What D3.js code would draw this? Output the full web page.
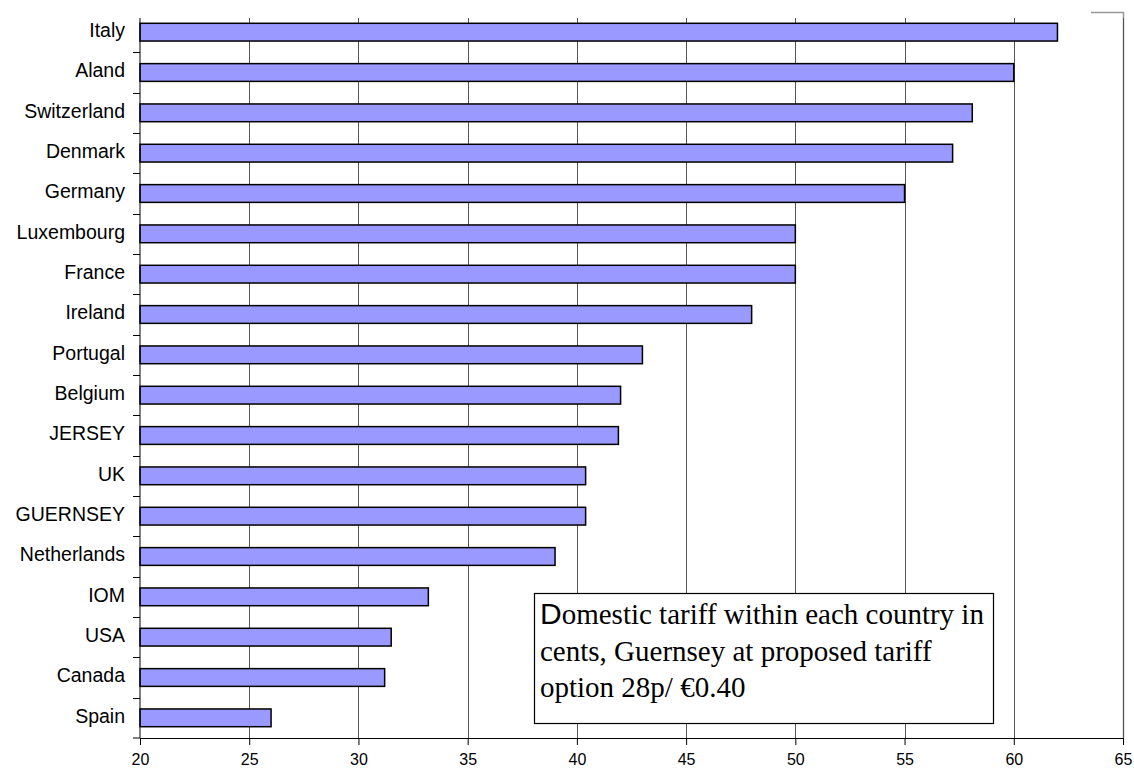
<!DOCTYPE html>
<meta charset="utf-8">
<style>
  body { margin: 0; background: #fff; }
</style>
<div id="barchart"></div>
<script src="https://cdn.jsdelivr.net/npm/d3@7"></script>
<script>

var countries = ["Italy", "Aland", "Switzerland", "Denmark", "Germany", "Luxembourg",
                 "France", "Ireland", "Portugal", "Belgium", "JERSEY", "UK",
                 "GUERNSEY", "Netherlands", "IOM", "USA", "Canada", "Spain"];
var tariffs = [62, 60, 58.1, 57.2, 55, 50, 50, 48, 43, 42, 41.9, 40.4, 40.4, 39, 33.2, 31.5, 31.2, 26];
var xTicks = [20, 25, 30, 35, 40, 45, 50, 55, 60, 65];
var noteLines = ["omestic tariff within each country in",
                 "cents, Guernsey at proposed tariff",
                 "option 28p/ \u20AC0.40"];

var width = 1134, height = 770;
var plot = {left: 140, right: 1123, top: 12, bottom: 738};

var data = countries.map(function(c, i) { return {name: c, value: tariffs[i]}; });

var svg = d3.select("#barchart")
  .append("svg")
    .attr("width", width)
    .attr("height", height);

var x = d3.scaleLinear()
  .domain([20, 65])
  .range([plot.left, plot.right]);

var y = d3.scaleBand()
  .domain(countries)
  .range([plot.top, plot.bottom])
  .paddingInner(0.56)
  .paddingOuter(0.28);

// gray frame corner at top right
svg.append("path")
  .attr("d", "M1091,12.5H" + (plot.right + 0.5) + "V" + plot.bottom)
  .attr("fill", "none")
  .attr("stroke", "#999")
  .attr("stroke-width", 1.5);

// gridlines
svg.append("g")
  .selectAll("line")
  .data(xTicks.slice(1))
  .enter()
  .append("line")
    .attr("x1", function(d) { return Math.round(x(d)) + 0.5; })
    .attr("x2", function(d) { return Math.round(x(d)) + 0.5; })
    .attr("y1", 18)
    .attr("y2", plot.bottom)
    .attr("stroke", "#555")
    .attr("stroke-width", 1);

// bars
svg.append("g")
  .selectAll("rect")
  .data(data)
  .enter()
  .append("rect")
    .attr("x", x(20))
    .attr("y", function(d) { return y(d.name); })
    .attr("width", function(d) { return x(d.value) - x(20); })
    .attr("height", y.bandwidth())
    .attr("fill", "#9999ff")
    .attr("stroke", "#000")
    .attr("stroke-width", 1.5);

// x axis
var xAxis = svg.append("g")
  .attr("transform", "translate(0," + plot.bottom + ")")
  .call(d3.axisBottom(x).tickValues(xTicks).tickSize(7).tickPadding(9).tickSizeOuter(0));
xAxis.select(".domain").attr("stroke", "#000");
xAxis.selectAll("text")
  .attr("font-family", "Liberation Sans, Arial, sans-serif")
  .attr("font-size", 16)
  .attr("fill", "#000");

// y axis with ticks at band boundaries
var half = y.step() * y.paddingInner() / 2;
var yAxis = svg.append("g")
  .attr("transform", "translate(" + plot.left + ",0)");
yAxis.append("line")
  .attr("x1", 0).attr("x2", 0)
  .attr("y1", 18).attr("y2", plot.bottom)
  .attr("stroke", "#000");
yAxis.selectAll(".tk")
  .data(countries.slice(1))
  .enter()
  .append("line")
    .attr("class", "tk")
    .attr("x1", -7).attr("x2", 0)
    .attr("y1", function(d) { return Math.round(y(d) - half) + 0.5; })
    .attr("y2", function(d) { return Math.round(y(d) - half) + 0.5; })
    .attr("stroke", "#000");
yAxis.append("line")
  .attr("x1", -7).attr("x2", 0)
  .attr("y1", plot.bottom).attr("y2", plot.bottom)
  .attr("stroke", "#000");
yAxis.selectAll(".lbl")
  .data(countries)
  .enter()
  .append("text")
    .attr("class", "lbl")
    .attr("x", -15)
    .attr("y", function(d) { return y(d) + y.bandwidth() / 2 - 2; })
    .attr("dy", "0.35em")
    .attr("text-anchor", "end")
    .attr("font-family", "Liberation Sans, Arial, sans-serif")
    .attr("font-size", 19.5)
    .text(function(d) { return d; });

// note box
var note = svg.append("g");
note.append("rect")
  .attr("x", 534.5).attr("y", 593.5)
  .attr("width", 459).attr("height", 130)
  .attr("fill", "#fff")
  .attr("stroke", "#000")
  .attr("stroke-width", 1.2);
var txt = note.append("text")
  .attr("font-family", "Liberation Serif, Times New Roman, serif")
  .attr("font-size", 29)
  .attr("fill", "#000");
noteLines.forEach(function(line, i) {
  var t = txt.append("tspan")
    .attr("x", 540)
    .attr("y", 624 + i * 36.5);
  if (i === 0) {
    t.append("tspan")
      .attr("font-family", "Liberation Sans, Arial, sans-serif")
      .attr("font-size", 30)
      .text("D");
  }
  t.append("tspan").text(line);
});

</script>
